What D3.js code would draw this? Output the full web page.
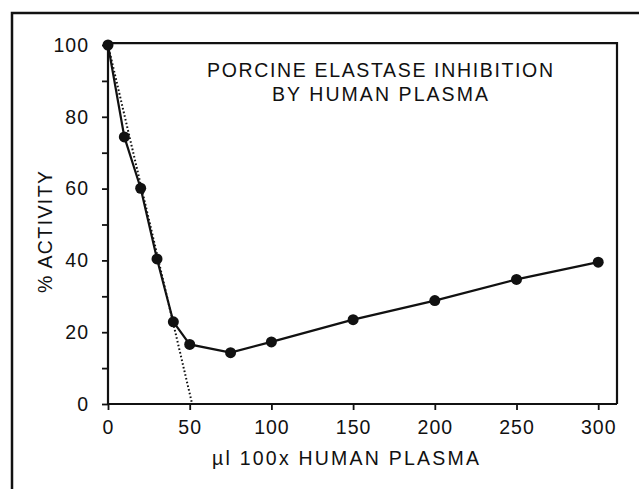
<!DOCTYPE html>
<html>
<head>
<meta charset="utf-8">
<script src="https://cdn.jsdelivr.net/npm/d3@7"></script>
<style>
  html, body { margin: 0; padding: 0; background: #fff; }
  svg { display: block; }
  text { font-family: "Liberation Sans", Arial, Helvetica, sans-serif; fill: #111; }
</style>
</head>
<body>
<svg id="chart" width="639" height="489"></svg>
<script>
// ---- data ----
const plasmaVolume = [0, 10, 20, 30, 40, 50, 75, 100, 150, 200, 250, 300];
const activity = [100, 74.4, 60.1, 40.4, 22.9, 16.6, 14.3, 17.3, 23.5, 28.8, 34.7, 39.5];
const extrapX = [0, 51.5];
const extrapY = [100, 0];
const xTicks = [0, 50, 100, 150, 200, 250, 300];
const yTicks = [0, 10, 20, 30, 40, 50, 60, 70, 80, 90, 100];
const yLabelTicks = [0, 20, 40, 60, 80, 100];
const titleLines = ["PORCINE ELASTASE INHIBITION", "BY HUMAN PLASMA"];
const xTitle = "\u00b5l 100x HUMAN PLASMA";
const yTitle = "% ACTIVITY";

// ---- layout ----
const svg = d3.select("#chart");
const x = d3.scaleLinear().domain([0, 311.5]).range([108, 617]);
const y = d3.scaleLinear().domain([0, 100]).range([404, 45]);
const ink = "#111";
const fs = 19.5;

// outer frame (extends past right and bottom edges)
svg.append("rect")
  .attr("x", 12).attr("y", 13).attr("width", 700).attr("height", 600)
  .attr("fill", "none").attr("stroke", ink).attr("stroke-width", 2.5);

// plot box top & right border
svg.append("path")
  .attr("d", `M${x(0)},${y(100.5)}H${x(311.5)}V${y(0)}`)
  .attr("fill", "none").attr("stroke", ink).attr("stroke-width", 2.2);

// axes
const xAxis = d3.axisBottom(x).tickValues(xTicks).tickSize(6).tickPadding(10)
  .tickFormat(d3.format("d"));
const gx = svg.append("g").attr("transform", `translate(0,${y(0)})`).call(xAxis);
gx.select(".domain").attr("d", `M${x(0)},0H${x(311.5)}`).attr("stroke", ink).attr("stroke-width", 2.2);
gx.selectAll(".tick line").attr("stroke", ink).attr("stroke-width", 1.8);
gx.selectAll(".tick text").attr("font-size", fs).attr("fill", ink)
  .style("font-family", '"Liberation Sans", Arial, sans-serif').style("letter-spacing", "1px");

const yAxis = d3.axisLeft(y).tickValues(yTicks).tickSize(6).tickPadding(13)
  .tickFormat(d => yLabelTicks.includes(d) ? d : "");
const gy = svg.append("g").attr("transform", `translate(${x(0)},0)`).call(yAxis);
gy.select(".domain").attr("d", `M0,${y(0)}V${y(100.5)}`).attr("stroke", ink).attr("stroke-width", 2.2);
gy.selectAll(".tick line").attr("stroke", ink).attr("stroke-width", 1.8);
gy.selectAll(".tick text").attr("font-size", fs).attr("fill", ink)
  .style("font-family", '"Liberation Sans", Arial, sans-serif').style("letter-spacing", "1px");

// dotted extrapolation line
const extrap = extrapX.map((v, i) => [v, extrapY[i]]);
svg.append("path")
  .datum(extrap)
  .attr("d", d3.line().x(d => x(d[0])).y(d => y(d[1])))
  .attr("fill", "none").attr("stroke", ink).attr("stroke-width", 2)
  .attr("stroke-dasharray", "1.6,2.2");

// data line
const pts = plasmaVolume.map((v, i) => [v, activity[i]]);
svg.append("path")
  .datum(pts)
  .attr("d", d3.line().x(d => x(d[0])).y(d => y(d[1])))
  .attr("fill", "none").attr("stroke", ink).attr("stroke-width", 2.2);

svg.selectAll("circle.pt").data(pts).enter().append("circle")
  .attr("class", "pt")
  .attr("cx", d => x(d[0])).attr("cy", d => y(d[1])).attr("r", 5.5)
  .attr("fill", ink);

// title
svg.selectAll("text.title").data(titleLines).enter().append("text")
  .attr("class", "title")
  .attr("x", 380).attr("y", (d, i) => 77 + i * 24)
  .attr("text-anchor", "middle").attr("font-size", fs)
  .attr("textLength", (d, i) => i === 0 ? 346 : 216)
  .attr("lengthAdjust", "spacing")
  .text(d => d);

// x title
svg.append("text")
  .attr("x", 345.5).attr("y", 465)
  .attr("text-anchor", "middle").attr("font-size", fs)
  .attr("textLength", 267).attr("lengthAdjust", "spacing")
  .text(xTitle);

// y title
svg.append("text")
  .attr("transform", "translate(52,232) rotate(-90)")
  .attr("text-anchor", "middle").attr("font-size", fs)
  .attr("textLength", 122).attr("lengthAdjust", "spacing")
  .text(yTitle);
</script>
</body>
</html>
